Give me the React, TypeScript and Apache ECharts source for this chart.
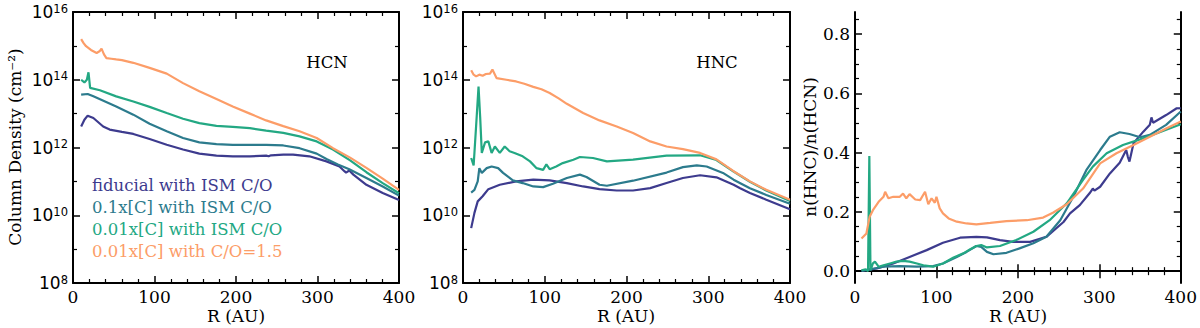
import React, { useEffect, useRef } from 'react';
import * as echarts from 'echarts';

// ---------- data ----------
const seriesNames = [
  'fiducial with ISM C/O',
  '0.1x[C] with ISM C/O',
  '0.01x[C] with ISM C/O',
  '0.01x[C] with C/O=1.5',
];
const colors = ['#3d3b8e', '#2c7b8d', '#23a883', '#fc9d68'];

const xTicks = [0, 100, 200, 300, 400];
const logMajorTicks = [1e8, 1e10, 1e12, 1e14, 1e16];
const logMinorTicks = [1e9, 1e11, 1e13, 1e15];
const ratioMajorTicks = [0, 0.2, 0.4, 0.6, 0.8];
const ratioMinorTicks = [0.05, 0.1, 0.15, 0.25, 0.3, 0.35, 0.45, 0.5, 0.55, 0.65, 0.7, 0.75, 0.85];

// HCN column density, log10(N / cm^-2) vs R (AU)
const hcnFiducialR = [10, 14, 18, 25, 37, 45, 60, 74, 94, 115, 135, 155, 176, 196, 217, 237, 240, 243, 258, 270, 290, 311, 327, 333, 335, 339, 344, 360, 380, 400];
const hcnFiducialLog = [12.62, 12.82, 12.94, 12.87, 12.62, 12.53, 12.46, 12.4, 12.25, 12.08, 11.94, 11.82, 11.76, 11.74, 11.74, 11.76, 11.74, 11.77, 11.79, 11.79, 11.74, 11.59, 11.44, 11.3, 11.26, 11.32, 11.2, 10.9, 10.66, 10.45];
const hcnTenthR = [10, 18, 25, 53, 74, 94, 115, 135, 155, 176, 196, 217, 237, 258, 278, 299, 311, 325, 339, 360, 380, 400];
const hcnTenthLog = [13.56, 13.58, 13.51, 13.21, 12.97, 12.7, 12.48, 12.28, 12.15, 12.1, 12.08, 12.08, 12.08, 12.06, 11.98, 11.82, 11.66, 11.5, 11.36, 11.1, 10.85, 10.58];
const hcnHundredthR = [10, 14, 17, 19, 21, 33, 53, 74, 94, 115, 135, 155, 176, 196, 217, 237, 258, 278, 299, 319, 340, 360, 380, 400];
const hcnHundredthLog = [14.0, 13.92, 14.0, 14.22, 13.76, 13.69, 13.51, 13.36, 13.2, 13.02, 12.85, 12.72, 12.64, 12.61, 12.57, 12.5, 12.43, 12.33, 12.18, 11.94, 11.62, 11.27, 10.95, 10.65];
const hcnHighCOR = [10, 13, 16, 22, 29, 33, 35, 38, 41, 47, 53, 60, 74, 94, 115, 135, 155, 176, 196, 217, 237, 258, 278, 299, 319, 340, 360, 380, 400];
const hcnHighCOLog = [15.2, 15.08, 14.99, 14.88, 14.79, 14.85, 14.92, 14.75, 14.64, 14.62, 14.6, 14.58, 14.5, 14.35, 14.18, 13.9, 13.66, 13.43, 13.21, 13.0, 12.8, 12.63, 12.48, 12.28, 11.98, 11.7, 11.4, 11.08, 10.75];

// HNC column density, log10(N / cm^-2) vs R (AU)
const hncFiducialR = [10, 14, 18, 24, 31, 45, 65, 86, 106, 127, 147, 167, 188, 208, 229, 249, 269, 290, 310, 331, 339, 351, 371, 400];
const hncFiducialLog = [9.62, 10.07, 10.41, 10.56, 10.77, 10.9, 11.0, 11.05, 11.03, 10.95, 10.85, 10.77, 10.73, 10.73, 10.8, 10.95, 11.1, 11.18, 11.12, 10.9, 10.8, 10.66, 10.46, 10.18];
const hncTenthR = [10, 14, 18, 20, 23, 29, 35, 43, 49, 61, 73, 86, 98, 110, 127, 143, 151, 167, 176, 208, 249, 269, 286, 298, 318, 331, 351, 371, 400];
const hncTenthLog = [10.67, 10.75, 11.0, 11.39, 11.25, 11.39, 11.44, 11.39, 11.25, 11.03, 10.95, 10.85, 10.83, 10.93, 11.1, 11.2, 11.13, 10.9, 10.87, 11.02, 11.26, 11.42, 11.47, 11.44, 11.25, 11.05, 10.8, 10.6, 10.34];
const hncHundredthR = [10, 13, 16, 19, 21, 23, 27, 31, 35, 39, 45, 51, 57, 63, 73, 82, 90, 98, 102, 106, 114, 122, 135, 143, 159, 176, 208, 249, 290, 310, 331, 351, 371, 400];
const hncHundredthLog = [11.69, 11.47, 12.62, 13.8, 12.9, 11.84, 12.15, 12.18, 11.84, 12.03, 11.84, 12.03, 11.89, 11.84, 11.74, 11.59, 11.39, 11.34, 11.5, 11.36, 11.44, 11.54, 11.64, 11.72, 11.69, 11.59, 11.64, 11.76, 11.77, 11.63, 11.29, 10.99, 10.73, 10.42];
const hncHighCOR = [10, 13, 16, 20, 24, 28, 33, 36, 41, 53, 65, 75, 86, 96, 106, 117, 127, 147, 167, 188, 208, 229, 249, 269, 290, 310, 331, 351, 371, 400];
const hncHighCOLog = [14.28, 14.15, 14.1, 14.15, 14.12, 14.17, 14.18, 14.3, 14.05, 14.0, 13.95, 13.88, 13.79, 13.72, 13.61, 13.45, 13.29, 13.02, 12.8, 12.62, 12.43, 12.18, 12.03, 11.95, 11.84, 11.65, 11.3, 11.0, 10.75, 10.46];

// n(HNC)/n(HCN) vs R (AU)
const ratioFiducialR = [8, 27, 47, 67, 88, 108, 129, 149, 162, 178, 194, 215, 235, 256, 264, 276, 288, 292, 294, 301, 313, 325, 333, 335, 337, 342, 354, 362, 364, 366, 382, 395, 400];
const ratioFiducial = [0.001, 0.009, 0.026, 0.048, 0.071, 0.096, 0.113, 0.116, 0.114, 0.105, 0.099, 0.099, 0.116, 0.166, 0.195, 0.223, 0.263, 0.279, 0.272, 0.285, 0.33, 0.366, 0.409, 0.386, 0.37, 0.432, 0.471, 0.494, 0.519, 0.501, 0.527, 0.55, 0.55];
const ratioTenthR = [8, 35, 55, 76, 96, 108, 125, 137, 149, 155, 162, 170, 186, 202, 219, 235, 252, 268, 284, 301, 313, 325, 337, 350, 362, 382, 400];
const ratioTenth = [0.001, 0.015, 0.017, 0.015, 0.017, 0.026, 0.048, 0.065, 0.085, 0.082, 0.065, 0.057, 0.062, 0.077, 0.094, 0.116, 0.172, 0.251, 0.341, 0.409, 0.454, 0.469, 0.463, 0.452, 0.46, 0.494, 0.539];
const ratioHundredthR = [8, 13, 16, 17.6, 19, 22, 24.5, 29, 35, 43, 51, 59, 67, 76, 84, 96, 108, 121, 133, 141, 149, 155, 162, 178, 198, 219, 239, 260, 280, 292, 309, 329, 350, 370, 400];
const ratioHundredth = [0.003, 0.006, 0.0, 0.389, 0.003, 0.026, 0.032, 0.015, 0.02, 0.026, 0.032, 0.035, 0.032, 0.026, 0.02, 0.015, 0.026, 0.046, 0.06, 0.073, 0.085, 0.088, 0.08, 0.085, 0.105, 0.133, 0.172, 0.229, 0.308, 0.353, 0.398, 0.426, 0.445, 0.465, 0.496];
const ratioHighCOR = [8, 14, 18, 22, 29, 35, 37, 41, 47, 55, 59, 63, 67, 74, 80, 86, 90, 94, 98, 100, 104, 108, 115, 125, 137, 149, 166, 186, 211, 231, 243, 260, 280, 301, 321, 342, 362, 382, 400];
const ratioHighCO = [0.11, 0.127, 0.184, 0.206, 0.234, 0.251, 0.268, 0.246, 0.251, 0.251, 0.262, 0.246, 0.26, 0.242, 0.24, 0.268, 0.226, 0.246, 0.231, 0.251, 0.212, 0.195, 0.178, 0.167, 0.161, 0.158, 0.163, 0.169, 0.172, 0.181, 0.197, 0.226, 0.279, 0.364, 0.398, 0.426, 0.454, 0.482, 0.505];

const SERIF = 'DejaVu Serif';
const SANS = 'DejaVu Sans';

const pairs = (xs: number[], ys: number[]) => xs.map((x, i) => [x, ys[i]]);
const pairsPow = (xs: number[], ys: number[]) => xs.map((x, i) => [x, Math.pow(10, ys[i])]);

export default function App() {
  const ref = useRef<HTMLDivElement>(null);

  useEffect(() => {
    if (!ref.current) return;
    const chart = echarts.init(ref.current, undefined, { renderer: 'svg' });

    const grids = [
      { left: 73, top: 12, width: 326, height: 271 },
      { left: 463, top: 12, width: 327, height: 271 },
      { left: 855, top: 12, width: 326, height: 271 },
    ];

    const axisLine = { show: true, lineStyle: { color: '#000', width: 2 } };
    const majorTick = (extra: any = {}) => ({ show: true, inside: true, length: 7, lineStyle: { color: '#000', width: 1.5 }, ...extra });

    const xAxes: any[] = [];
    grids.forEach((_, g) => {
      ['bottom', 'top'].forEach((pos) => {
        xAxes.push({
          type: 'value', gridIndex: g, position: pos, min: 0, max: 400, interval: 100,
          axisLine, axisTick: majorTick(),
          minorTick: { show: true, splitNumber: 5, length: 4, lineStyle: { color: '#000', width: 1.2 } },
          splitLine: { show: false }, minorSplitLine: { show: false },
          axisLabel: pos === 'bottom'
            ? { show: true, color: '#000', fontFamily: SERIF, fontSize: 17, margin: 5, customValues: xTicks }
            : { show: false },
        });
      });
    });

    const yAxes: any[] = [];
    const logLabel = {
      show: true, margin: 5, color: '#000', customValues: logMajorTicks,
      formatter: (v: number) => `{b|10}{s|${Math.round(Math.log10(v))}}`,
      rich: {
        b: { fontFamily: SANS, fontSize: 17, lineHeight: 19, color: '#000' },
        s: { fontFamily: SANS, fontSize: 11.5, lineHeight: 11, verticalAlign: 'top', color: '#000' },
      },
    };
    [0, 1].forEach((g) => {
      ['left', 'right'].forEach((pos) => {
        yAxes.push({
          type: 'log', logBase: 10, gridIndex: g, position: pos, min: 1e8, max: 1e16,
          axisLine, axisTick: majorTick({ customValues: logMajorTicks }),
          splitLine: { show: false },
          axisLabel: pos === 'left' ? logLabel : { show: false },
        });
        yAxes.push({
          type: 'log', logBase: 10, gridIndex: g, position: pos, min: 1e8, max: 1e16,
          axisLine: { show: false },
          axisTick: { show: true, inside: true, length: 4, customValues: logMinorTicks, lineStyle: { color: '#000', width: 1.2 } },
          splitLine: { show: false },
          axisLabel: { show: false },
        });
      });
    });
    ['left', 'right'].forEach((pos) => {
      yAxes.push({
        type: 'value', gridIndex: 2, position: pos, min: -0.04, max: 0.875,
        axisLine, axisTick: majorTick({ customValues: ratioMajorTicks }),
        splitLine: { show: false },
        axisLabel: pos === 'left'
          ? { show: true, margin: 5, color: '#000', fontFamily: SERIF, fontSize: 17, customValues: ratioMajorTicks, formatter: (v: number) => v.toFixed(1) }
          : { show: false },
      });
      yAxes.push({
        type: 'value', gridIndex: 2, position: pos, min: -0.04, max: 0.875,
        axisLine: { show: false },
        axisTick: { show: true, inside: true, length: 4, customValues: ratioMinorTicks, lineStyle: { color: '#000', width: 1.2 } },
        splitLine: { show: false },
        axisLabel: { show: false },
      });
    });

    const line = (name: string, color: string, data: any[], xi: number, yi: number) => ({
      type: 'line', name, data, xAxisIndex: xi, yAxisIndex: yi,
      showSymbol: false, symbol: 'none', clip: true,
      lineStyle: { color, width: 2.2 }, itemStyle: { color },
    });

    const series = [
      line(seriesNames[0], colors[0], pairsPow(hcnFiducialR, hcnFiducialLog), 0, 0),
      line(seriesNames[1], colors[1], pairsPow(hcnTenthR, hcnTenthLog), 0, 0),
      line(seriesNames[2], colors[2], pairsPow(hcnHundredthR, hcnHundredthLog), 0, 0),
      line(seriesNames[3], colors[3], pairsPow(hcnHighCOR, hcnHighCOLog), 0, 0),
      line(seriesNames[0], colors[0], pairsPow(hncFiducialR, hncFiducialLog), 2, 4),
      line(seriesNames[1], colors[1], pairsPow(hncTenthR, hncTenthLog), 2, 4),
      line(seriesNames[2], colors[2], pairsPow(hncHundredthR, hncHundredthLog), 2, 4),
      line(seriesNames[3], colors[3], pairsPow(hncHighCOR, hncHighCOLog), 2, 4),
      line(seriesNames[0], colors[0], pairs(ratioFiducialR, ratioFiducial), 4, 8),
      line(seriesNames[1], colors[1], pairs(ratioTenthR, ratioTenth), 4, 8),
      line(seriesNames[2], colors[2], pairs(ratioHundredthR, ratioHundredth), 4, 8),
      line(seriesNames[3], colors[3], pairs(ratioHighCOR, ratioHighCO), 4, 8),
    ];

    const txt = (text: string, x: number, y: number, opts: any = {}) => ({
      type: 'text', x, y, rotation: opts.rotation || 0, silent: true,
      style: {
        text, fill: opts.color || '#000', fontFamily: opts.fontFamily || SERIF,
        fontSize: opts.fontSize || 17, textAlign: opts.align || 'center', textVerticalAlign: 'middle',
      },
    });

    const graphic = [
      txt('Column Density (cm⁻²)', 15, 147, { rotation: Math.PI / 2 }),
      txt('n(HNC)/n(HCN)', 810, 147, { rotation: Math.PI / 2 }),
      txt('R (AU)', 236, 316),
      txt('R (AU)', 626, 316),
      txt('R (AU)', 1018, 316),
      txt('HCN', 327, 62, { fontSize: 16.5 }),
      txt('HNC', 717, 62, { fontSize: 16.5 }),
      ...seriesNames.map((n, i) => txt(n, 92, 185 + i * 22, { color: colors[i], align: 'left', fontSize: 16.5 })),
    ];

    chart.setOption({
      animation: false,
      backgroundColor: '#fff',
      grid: grids,
      xAxis: xAxes,
      yAxis: yAxes,
      series,
      graphic,
    });

    return () => chart.dispose();
  }, []);

  return <div ref={ref} style={{ position: 'fixed', left: 0, top: 0, width: 1200, height: 328 }} />;
}
